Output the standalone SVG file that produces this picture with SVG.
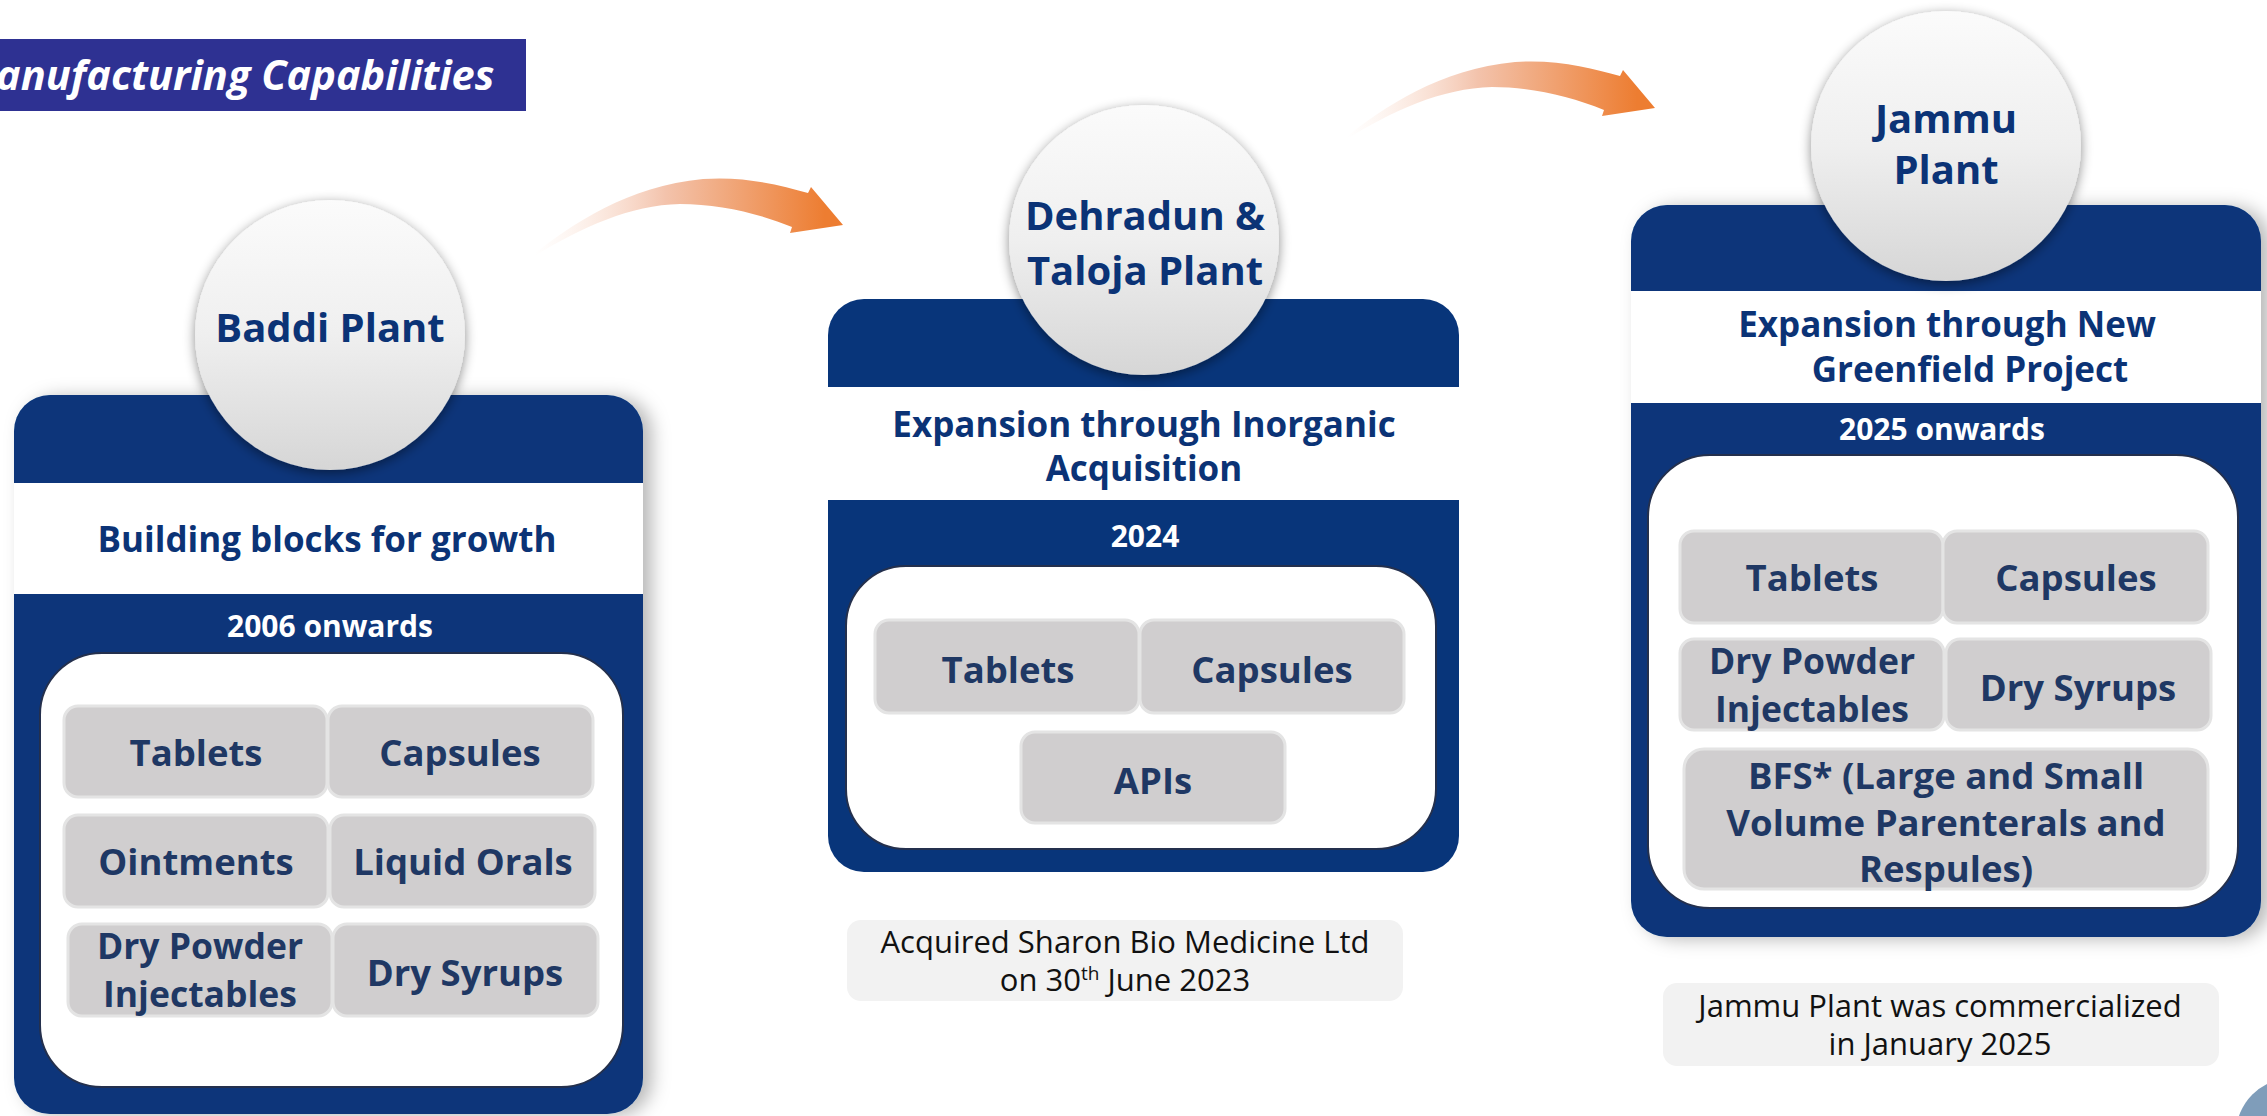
<svg xmlns="http://www.w3.org/2000/svg" width="2267" height="1116" viewBox="0 0 2267 1116">
  <defs>
    <style>
      text { font-family: 'Open Sans', 'Noto Sans', 'DejaVu Sans', sans-serif; text-anchor: middle; }
      .card { fill: #08357A; }
      .band { fill: #FFFFFF; }
      .inner { fill: #FFFFFF; stroke: #24304D; stroke-width: 2; }
      .box { fill: #D0CECF; stroke: #E4E4E4; stroke-width: 3; }
      .note { fill: #F2F2F2; }
      .bubble { fill: url(#bubbleFill); filter: url(#bubbleShadow); }
      .plant { font-weight: 700; font-size: 40px; fill: #0B3376; }
      .heading { font-weight: 700; font-size: 35px; fill: #0B3376; }
      .year { font-weight: 700; font-size: 30px; fill: #FFFFFF; }
      .item { font-weight: 700; font-size: 36.5px; fill: #1F3864; }
      .item2 { font-weight: 700; font-size: 35.5px; fill: #1F3864; }
      .remark { font-weight: 400; font-size: 31px; fill: #111111; }
      .title { font-weight: 700; font-style: italic; font-size: 41.5px; fill: #FFFFFF; text-anchor: start; }
    </style>
    <linearGradient id="bubbleFill" x1="0" y1="0" x2="0" y2="1">
      <stop offset="0" stop-color="#FBFBFB"/>
      <stop offset="0.5" stop-color="#EFEFEF"/>
      <stop offset="1" stop-color="#D6D6D6"/>
    </linearGradient>
    <linearGradient id="arrowFill" gradientUnits="userSpaceOnUse" x1="535" y1="0" x2="825" y2="0">
      <stop offset="0" stop-color="#FBE3D6" stop-opacity="0"/>
      <stop offset="0.45" stop-color="#F3C3AC"/>
      <stop offset="1" stop-color="#ED7D31"/>
    </linearGradient>
    <filter id="bubbleShadow" x="-20%" y="-20%" width="140%" height="140%">
      <feDropShadow dx="0" dy="3" stdDeviation="6" flood-color="#000000" flood-opacity="0.45"/>
    </filter>
    <filter id="cardShadow" x="-10%" y="-10%" width="125%" height="120%">
      <feDropShadow dx="9" dy="2" stdDeviation="9" flood-color="#000000" flood-opacity="0.28"/>
    </filter>
  </defs>

  <rect width="2267" height="1116" fill="#FFFFFF"/>

  <!-- page heading -->
  <g id="heading">
    <rect x="0" y="39" width="526" height="72" fill="#2E3192"/>
    <text class="title" x="-4" y="90">anufacturing Capabilities</text>
  </g>

  <!-- curved progress arrows -->
  <g id="connectors">
    <path fill="url(#arrowFill)" d="M533,255 C572,224 628,186 703,179 C744,176 780,185 808,193 L811,187 L843,225 L790,233 L792,227 C758,213 718,204 680,204 C630,205 580,228 533,257 Z"/>
    <path fill="url(#arrowFill)" transform="translate(812,-117)" d="M533,255 C572,224 628,186 703,179 C744,176 780,185 808,193 L811,187 L843,225 L790,233 L792,227 C758,213 718,204 680,204 C630,205 580,228 533,257 Z"/>
  </g>

  <!-- Baddi -->
  <g id="baddi">
    <rect class="card" x="14" y="395" width="629" height="719" rx="36" filter="url(#cardShadow)"/>
    <rect class="band" x="14" y="483" width="629" height="111"/>
    <circle class="bubble" cx="330" cy="335" r="135"/>
    <text class="plant" x="330" y="342">Baddi Plant</text>
    <text class="heading" x="327" y="552">Building blocks for growth</text>
    <text class="year" x="330" y="637">2006 onwards</text>
    <rect class="inner" x="40" y="653" width="583" height="434" rx="62"/>
    <rect class="box" x="64" y="706" width="263" height="91" rx="14"/>
    <rect class="box" x="328" y="706" width="265" height="91" rx="14"/>
    <rect class="box" x="64" y="815" width="264" height="92" rx="14"/>
    <rect class="box" x="330" y="815" width="265" height="92" rx="14"/>
    <rect class="box" x="68" y="924" width="264" height="92" rx="14"/>
    <rect class="box" x="333" y="924" width="265" height="92" rx="14"/>
    <text class="item" x="196" y="766">Tablets</text>
    <text class="item" x="460" y="766">Capsules</text>
    <text class="item" x="196" y="875">Ointments</text>
    <text class="item" x="463" y="875">Liquid Orals</text>
    <text class="item2" x="200" y="959">Dry Powder</text>
    <text class="item2" x="200" y="1007">Injectables</text>
    <text class="item" x="465" y="986">Dry Syrups</text>
  </g>

  <!-- Dehradun & Taloja -->
  <g id="dehradun-taloja">
    <rect class="card" x="828" y="299" width="631" height="573" rx="36"/>
    <rect class="band" x="828" y="387" width="631" height="113"/>
    <circle class="bubble" cx="1144" cy="240" r="135"/>
    <text class="plant" x="1145" y="230">Dehradun &amp;</text>
    <text class="plant" x="1145" y="285">Taloja Plant</text>
    <text class="heading" x="1144" y="437">Expansion through Inorganic</text>
    <text class="heading" x="1144" y="481">Acquisition</text>
    <text class="year" x="1145" y="547">2024</text>
    <rect class="inner" x="846" y="566" width="590" height="283" rx="60"/>
    <rect class="box" x="875" y="620" width="264" height="93" rx="14"/>
    <rect class="box" x="1140" y="620" width="264" height="93" rx="14"/>
    <rect class="box" x="1021" y="732" width="264" height="91" rx="14"/>
    <text class="item" x="1008" y="683">Tablets</text>
    <text class="item" x="1272" y="683">Capsules</text>
    <text class="item" x="1153" y="794">APIs</text>
  </g>

  <g id="dehradun-note">
    <rect class="note" x="847" y="920" width="556" height="81" rx="14"/>
    <text class="remark" x="1125" y="953">Acquired Sharon Bio Medicine Ltd</text>
    <text class="remark" x="1125" y="991">on 30<tspan font-size="19" dy="-11">th</tspan><tspan dy="11"> June 2023</tspan></text>
  </g>

  <!-- Jammu -->
  <g id="jammu">
    <rect class="card" x="1631" y="205" width="630" height="732" rx="36" filter="url(#cardShadow)"/>
    <rect class="band" x="1631" y="291" width="630" height="112"/>
    <circle class="bubble" cx="1946" cy="146" r="135"/>
    <text class="plant" x="1946" y="133">Jammu</text>
    <text class="plant" x="1946" y="184">Plant</text>
    <text class="heading" x="1947" y="337">Expansion through New</text>
    <text class="heading" x="1970" y="382">Greenfield Project</text>
    <text class="year" x="1942" y="440">2025 onwards</text>
    <rect class="inner" x="1648" y="455" width="590" height="453" rx="62"/>
    <rect class="box" x="1680" y="531" width="263" height="92" rx="14"/>
    <rect class="box" x="1943" y="531" width="265" height="92" rx="14"/>
    <rect class="box" x="1680" y="639" width="264" height="91" rx="14"/>
    <rect class="box" x="1946" y="639" width="265" height="91" rx="14"/>
    <rect class="box" x="1684" y="749" width="524" height="140" rx="20"/>
    <text class="item" x="1812" y="591">Tablets</text>
    <text class="item" x="2076" y="591">Capsules</text>
    <text class="item2" x="1812" y="674">Dry Powder</text>
    <text class="item2" x="1812" y="722">Injectables</text>
    <text class="item" x="2078" y="701">Dry Syrups</text>
    <text class="item" x="1946" y="789">BFS* (Large and Small</text>
    <text class="item" x="1946" y="836">Volume Parenterals and</text>
    <text class="item" x="1946" y="882">Respules)</text>
  </g>

  <g id="jammu-note">
    <rect class="note" x="1663" y="983" width="556" height="83" rx="14"/>
    <text class="remark" x="1940" y="1017">Jammu Plant was commercialized</text>
    <text class="remark" x="1940" y="1055">in January 2025</text>
  </g>

  <!-- page ornament, bottom right -->
  <circle cx="2292" cy="1134" r="56" fill="#7F9DBA"/>
</svg>
